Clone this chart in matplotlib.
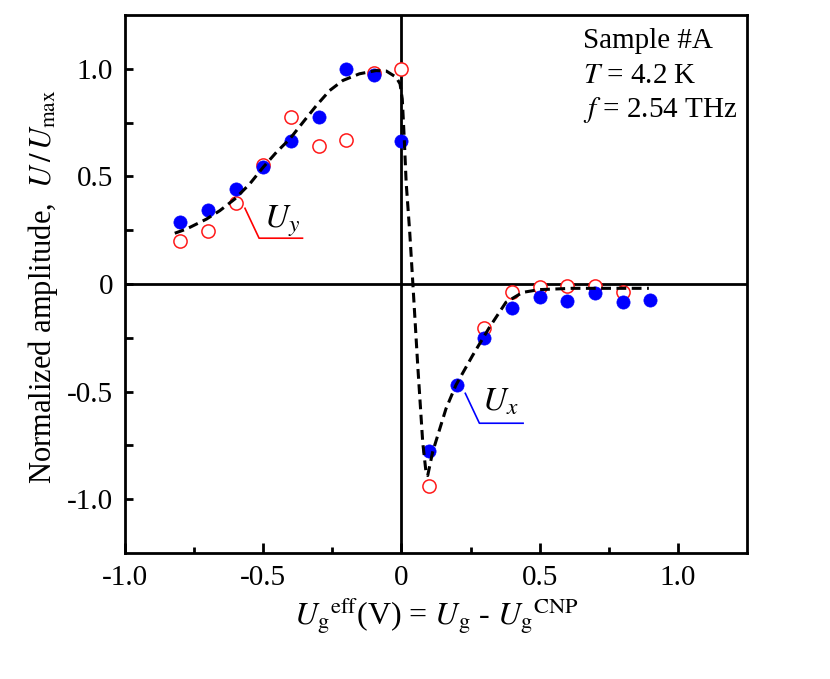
import numpy as np
import matplotlib
matplotlib.use("Agg")
import matplotlib.pyplot as plt

plt.rcParams['font.family'] = ['Liberation Serif', 'DejaVu Serif']
plt.rcParams['mathtext.fontset'] = 'stix'
plt.rcParams['axes.unicode_minus'] = False

# measured points, Ux (blue filled) and Uy (red open)
ux_x = [-0.8, -0.7, -0.6, -0.5, -0.4, -0.3, -0.2, -0.1, 0.0,
        0.1, 0.2, 0.3, 0.4, 0.5, 0.6, 0.7, 0.8, 0.9]
ux_y = [0.29, 0.345, 0.44, 0.545, 0.667, 0.775, 1.0, 0.97, 0.667,
        -0.777, -0.47, -0.253, -0.113, -0.062, -0.078, -0.042, -0.082, -0.073]

uy_x = [-0.8, -0.7, -0.6, -0.5, -0.4, -0.3, -0.2, -0.1, 0.0,
        0.1, 0.3, 0.4, 0.5, 0.6, 0.7, 0.8]
uy_y = [0.20, 0.245, 0.375, 0.553, 0.775, 0.643, 0.671, 0.98, 1.0,
        -0.94, -0.205, -0.037, -0.016, -0.008, -0.011, -0.039]

# dashed fit curve
fit_x = [-0.82, -0.777, -0.705, -0.657, -0.603, -0.549, -0.50, -0.452, -0.404,
         -0.356, -0.308, -0.26, -0.212, -0.152, -0.092, -0.055, -0.019, -0.005,
         0.003, 0.010, 0.017, 0.030, 0.041, 0.059, 0.077, 0.089, 0.095, 0.113,
         0.161, 0.197, 0.257, 0.318, 0.378, 0.438, 0.498, 0.618, 0.75, 0.895]
fit_y = [0.236, 0.256, 0.302, 0.341, 0.395, 0.465, 0.543, 0.613, 0.674,
         0.752, 0.829, 0.899, 0.946, 0.977, 0.992, 0.99, 0.961, 0.93,
         0.86, 0.68, 0.473, 0.24, 0.008, -0.38, -0.736, -0.876, -0.89, -0.78,
         -0.58, -0.47, -0.333, -0.202, -0.085, -0.039, -0.026, -0.02, -0.02, -0.02]

# label pointer lines
uy_ptr_x = [-0.566, -0.515, -0.358]
uy_ptr_y = [0.352, 0.213, 0.213]
ux_ptr_x = [0.231, 0.282, 0.44]
ux_ptr_y = [-0.508, -0.647, -0.647]

tick_pos = [-1.0, -0.5, 0.0, 0.5, 1.0]
tick_lab = ['-1.0', '-0.5', '0', '0.5', '1.0']

fs = 21

fig = plt.figure(figsize=(8.3, 6.79), dpi=100)
ax = fig.add_axes([0.1506, 0.1856, 0.7494, 0.7922])

ax.axhline(0, color='black', lw=2, zorder=1)
ax.axvline(0, color='black', lw=2, zorder=1)

ax.plot(uy_x, uy_y, 'o', ms=9.5, mfc='white', mec='#ff1a1a', mew=1.1, zorder=3)
ax.plot(ux_x, ux_y, 'o', ms=9.5, mfc='#0000ff', mec='#0000ff', mew=0.5, zorder=4)
ax.plot(fit_x, fit_y, color='black', lw=2.2, dashes=(3.2, 1.8), zorder=5)

ax.plot(uy_ptr_x, uy_ptr_y, color='#ff0000', lw=1.2, zorder=2)
ax.plot(ux_ptr_x, ux_ptr_y, color='#0000ff', lw=1.2, zorder=2)
ax.text(-0.498, 0.265, r'$U_y$', fontsize=24, ha='left', va='baseline')
ax.text(0.293, -0.589, r'$U_x$', fontsize=24, ha='left', va='baseline')

ax.set_xlim(-1.0, 1.25)
ax.set_ylim(-1.25, 1.25)

ax.set_xticks(tick_pos)
ax.set_xticklabels(tick_lab)
ax.set_xticks([-0.75, -0.25, 0.25, 0.75], minor=True)
ax.set_yticks(tick_pos)
ax.set_yticklabels(tick_lab)
ax.set_yticks([-0.75, -0.25, 0.25, 0.75], minor=True)

ax.tick_params(axis='both', which='both', direction='in', top=False, right=False,
               width=2, labelsize=fs)
ax.tick_params(axis='x', which='major', length=7, pad=9)
ax.tick_params(axis='x', which='minor', length=4)
ax.tick_params(axis='y', which='both', length=6, pad=8.5)

for s in ax.spines.values():
    s.set_linewidth(2)

ax.set_xlabel(r'$U_{\rm g}{}^{\rm eff}$(V) = $U_{\rm g}$ - $U_{\rm g}{}^{\rm CNP}$',
              fontsize=23, labelpad=3)
fig.text(0.052, 0.5783, r'Normalized amplitude,  $U\,/\,U_{\rm max}$',
         fontsize=22, rotation=90, ha='center', va='center')

ax.text(0.736, 0.9387, 'Sample #A', transform=ax.transAxes, fontsize=fs, va='baseline')
ax.text(0.736, 0.8736, r'$T$ = 4.2 K', transform=ax.transAxes, fontsize=fs, va='baseline')
ax.text(0.736, 0.8104, r'$f$ = 2.54 THz', transform=ax.transAxes, fontsize=fs, va='baseline')

fig.savefig('out.png', dpi=100)
